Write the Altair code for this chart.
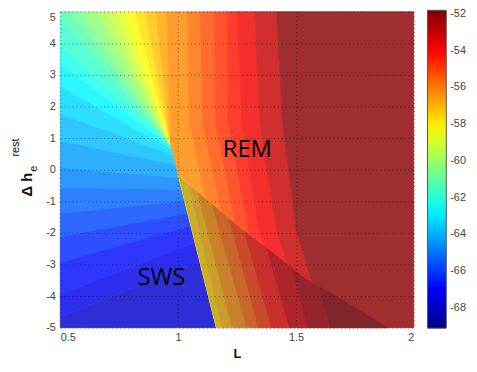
import math
import altair as alt
import pandas as pd

# ---------------- values ----------------
X_DOMAIN = [0.5, 2.0]
Y_DOMAIN = [-5.0, 5.0]
X_TICKS = [0.5, 1, 1.5, 2]
Y_TICKS = [-5, -4, -3, -2, -1, 0, 1, 2, 3, 4, 5]
CBAR_DOMAIN = [-69.1, -51.8]
CBAR_TICKS = [-52, -54, -56, -58, -60, -62, -64, -66, -68]

# SWS / REM domain boundary (top point, pivot, bottom point)
SWS_TOP = (1.0, 5.0)
SWS_PIVOT = (0.97, 0.75)
SWS_BOTTOM = (1.162, -5.0)

# SWS contour lines (bottom -> top): start on left edge (Y at L=0.5), end on boundary (Y)
FAN_LEFT_Y = [-4.66, -3.94, -2.93, -2.12, -1.37, -0.56, 0.07, 0.92, 1.79, 2.64, 3.36, 3.95, 4.83]
FAN_LEFT_END_Y = [-2.9, -2.3, -1.76, -1.36, -0.98, -0.62, -0.25, 0.15, 0.45, 0.65, 0.75, 0.75, 0.75]
# SWS contour lines starting on the top edge (L at dh=5), all ending at the pivot
FAN_TOP_X = [0.546, 0.592, 0.651, 0.693, 0.735, 0.777, 0.818, 0.860, 0.906, 0.952]
FAN_VALUES = [-67.75, -67.25, -66.75, -66.25, -65.75, -65.25, -64.75, -64.25,
              -63.75, -63.25, -62.75, -62.25, -61.75, -61.25, -60.75, -60.25,
              -59.75, -59.25, -58.75, -58.25, -57.75, -57.25, -56.75, -56.25]

# REM contour lines: L at dh = 5, 1.5, -1.9, -5
REM_LINE_Y = [5.0, 1.5, -1.9, -5.0]
REM_LINES_X = [
    [1.040, 1.049, 1.145, 1.250],
    [1.095, 1.103, 1.200, 1.313],
    [1.154, 1.158, 1.250, 1.367],
    [1.208, 1.212, 1.300, 1.426],
    [1.250, 1.271, 1.342, 1.480],
    [1.325, 1.346, 1.417, 1.552],
    [1.418, 1.443, 1.501, 1.627],
]
REM_VALUES = [-56.25, -55.75, -55.25, -54.75, -54.25, -53.75, -53.0, -52.0]

# bistable region (below the curve): SWS contour lines, L at dh = -1.9 and -5
EXT_LINE_Y = [-1.9, -5.0]
EXT_LINES_X = [
    [1.091, 1.187], [1.124, 1.229], [1.175, 1.292], [1.229, 1.342],
    [1.279, 1.397], [1.355, 1.472], [1.438, 1.552], [1.535, 1.648],
]
EXT_VALUES = [-57.75, -57.25, -56.5, -55.75, -55.0, -54.25, -53.25, -52.5, -51.9]

# boundary curve of the bistable region
CURVE_X = [1.001, 1.124, 1.263, 1.418, 1.543, 1.698, 1.891]
CURVE_Y = [-0.18, -0.96, -1.84, -2.72, -3.47, -4.12, -5.0]

LABEL_TEXT = ["REM", "SWS"]
LABEL_X = [1.294, 0.929]
LABEL_Y = [0.634, -3.435]

# ---------------- geometry helpers ----------------
V = [(0.5, -5.0), (0.5, 5.0), SWS_TOP, SWS_PIVOT, SWS_BOTTOM]
NV = len(V)


def perim_point(s):
    s = s % NV
    i = int(math.floor(s))
    f = s - i
    a, b = V[i], V[(i + 1) % NV]
    return (a[0] + f * (b[0] - a[0]), a[1] + f * (b[1] - a[1]))


def walk(s1, s2):
    if abs(s2 - s1) < 1e-12:
        return []
    if s2 < s1:
        s2 += NV
    return [V[j % NV] for j in range(int(math.floor(s1)) + 1, int(math.ceil(s2))) if s1 < j < s2]


def clip(poly, f):
    out = []
    n = len(poly)
    for i in range(n):
        a, b = poly[i], poly[(i + 1) % n]
        fa, fb = f(a), f(b)
        if fa >= 0:
            out.append(a)
        if (fa >= 0) != (fb >= 0):
            t = fa / (fa - fb)
            out.append((a[0] + t * (b[0] - a[0]), a[1] + t * (b[1] - a[1])))
    return out


def ext_fn(xs, sign):
    x1, x2 = xs
    y1, y2 = EXT_LINE_Y

    def f(p):
        return sign * (p[0] - (x1 + (x2 - x1) * (p[1] - y1) / (y2 - y1)))
    return f


polys = []  # (layer, value, vertices)

# SWS fan bands
starts = [(y + 5.0) / 10.0 for y in FAN_LEFT_Y] + \
         [1.0 + (x - 0.5) / (SWS_TOP[0] - 0.5) for x in FAN_TOP_X]
ends = [3.0 + (SWS_PIVOT[1] - y) / (SWS_PIVOT[1] - SWS_BOTTOM[1]) for y in FAN_LEFT_END_Y] + \
       [3.0] * len(FAN_TOP_X)
nl = len(starts)
for b in range(nl + 1):
    if b == 0:
        pts = [perim_point(ends[0])] + walk(ends[0], starts[0]) + [perim_point(starts[0])]
    elif b == nl:
        pts = [perim_point(starts[-1])] + walk(starts[-1], ends[-1]) + [perim_point(ends[-1])]
    else:
        pts = ([perim_point(starts[b - 1])] + walk(starts[b - 1], starts[b]) +
               [perim_point(starts[b]), perim_point(ends[b])] +
               walk(ends[b], ends[b - 1]) + [perim_point(ends[b - 1])])
    polys.append(("main", FAN_VALUES[b], pts))

# REM bands
rem_lines = [[SWS_TOP, SWS_PIVOT, SWS_BOTTOM]] + \
            [list(zip(xs, REM_LINE_Y)) for xs in REM_LINES_X] + \
            [[(X_DOMAIN[1], Y_DOMAIN[1]), (X_DOMAIN[1], Y_DOMAIN[0])]]
for j in range(len(rem_lines) - 1):
    pts = list(rem_lines[j]) + list(reversed(rem_lines[j + 1]))
    polys.append(("main", REM_VALUES[j], pts))

# bistable region bands
region = list(zip(CURVE_X, CURVE_Y)) + [SWS_BOTTOM]
for j in range(len(EXT_LINES_X) + 1):
    pts = region
    if j > 0:
        pts = clip(pts, ext_fn(EXT_LINES_X[j - 1], 1))
    if j < len(EXT_LINES_X):
        pts = clip(pts, ext_fn(EXT_LINES_X[j], -1))
    if len(pts) >= 3:
        polys.append(("ext", EXT_VALUES[j], pts))

rows = []
for pid, (layer, val, pts) in enumerate(polys):
    for k, (x, y) in enumerate(pts):
        rows.append({"pid": pid, "layer": layer, "v": val, "k": k, "x": x, "y": y})
df = pd.DataFrame(rows)
df_main = df[df.layer == "main"]
df_ext = df[df.layer == "ext"]
df_shade = pd.DataFrame([{"pid": 0, "k": k, "x": x, "y": y} for k, (x, y) in enumerate(region)])

# ---------------- styling ----------------
JET = ["#000080", "#0000ff", "#0080ff", "#00ffff", "#80ff80", "#ffff00", "#ff8000", "#ff0000", "#800000"]
ALPHA = 0.82


def lighten(h):
    c = [int(h[i:i + 2], 16) for i in (1, 3, 5)]
    c = [round(ALPHA * v + (1 - ALPHA) * 255) for v in c]
    return "#%02x%02x%02x" % tuple(c)


JET_LIGHT = [lighten(h) for h in JET]

FONT = "Liberation Sans"
sx = alt.Scale(domain=X_DOMAIN, nice=False, zero=False)
sy = alt.Scale(domain=Y_DOMAIN, nice=False, zero=False)
light = alt.Scale(domain=CBAR_DOMAIN, range=JET_LIGHT, interpolate="rgb")

x_axis = alt.Axis(values=X_TICKS, labelExpr="'' + datum.value", grid=True, gridDash=[1, 3],
                  gridColor="#000000", gridOpacity=0.5, ticks=False, domain=False,
                  labelPadding=4, labelFontSize=11, labelFont=FONT, labelColor="#444444",
                  titleFontSize=13, titleFontWeight="bold", titleFont=FONT, titlePadding=5,
                  titleColor="#111111", zindex=1)
y_axis = alt.Axis(values=Y_TICKS, labelExpr="'' + datum.value", grid=True, gridDash=[1, 3],
                  gridColor="#000000", gridOpacity=0.5, ticks=False, domain=False,
                  labelBaseline={"condition": {"test": "datum.value == 5", "value": "top"},
                                 "value": "middle"},
                  labelPadding=5, labelFontSize=11, labelFont=FONT, labelColor="#444444", zindex=1)

X = alt.X("x:Q", scale=sx, axis=x_axis, title="L")
Y = alt.Y("y:Q", scale=sy, axis=y_axis, title=None)

main = alt.Chart(df_main).mark_line(filled=True, interpolate="linear-closed", strokeWidth=0.8).encode(
    x=X, y=Y,
    color=alt.Color("v:Q", scale=light, legend=None),
    stroke=alt.Stroke("v:Q", scale=light, legend=None),
    detail="pid:N", order="k:Q")

ext = alt.Chart(df_ext).mark_line(filled=True, interpolate="linear-closed", strokeWidth=0.8).encode(
    x=X, y=Y,
    color=alt.Color("v:Q", scale=light, legend=None),
    stroke=alt.Stroke("v:Q", scale=light, legend=None),
    detail="pid:N", order="k:Q")

shade = alt.Chart(df_shade).mark_line(filled=True, interpolate="linear-closed", fill="#2a0a22",
                                      opacity=0.25, strokeWidth=0).encode(
    x=X, y=Y, detail="pid:N", order="k:Q")

labels = alt.Chart(pd.DataFrame({"t": LABEL_TEXT, "x": LABEL_X, "y": LABEL_Y})).mark_text(
    font="Open Sans", fontSize=24, color="#000000").encode(x=X, y=Y, text="t:N")

ytitle_main = alt.Chart(pd.DataFrame({"t": ["Δ h"]})).mark_text(
    angle=270, font=FONT, fontSize=15, fontWeight="bold", color="#111111").encode(
    x=alt.value(-34), y=alt.value(175), text="t:N")
ytitle_sup = alt.Chart(pd.DataFrame({"t": ["rest"]})).mark_text(
    angle=270, font=FONT, fontSize=11, color="#111111").encode(
    x=alt.value(-45), y=alt.value(137.5), text="t:N")
ytitle_sub = alt.Chart(pd.DataFrame({"t": ["e"]})).mark_text(
    angle=270, font=FONT, fontSize=11, color="#111111").encode(
    x=alt.value(-27), y=alt.value(159), text="t:N")

cbar = alt.Chart(pd.DataFrame({"cb": CBAR_DOMAIN, "x": [X_DOMAIN[0]] * 2, "y": [0.0, 0.0]})).mark_rect(
    opacity=1, width=0.01, height=0.01).encode(
    x=X, y=Y,
    color=alt.Color("cb:Q", scale=alt.Scale(domain=CBAR_DOMAIN, range=JET, interpolate="rgb"),
                    title=None,
                    legend=alt.Legend(orient="none", legendX=372, legendY=-1.5, direction="vertical",
                                      gradientLength=322, gradientThickness=19, values=CBAR_TICKS,
                                      labelExpr="'' + datum.value", labelFontSize=11, labelFont=FONT,
                                      labelColor="#444444", labelOffset=4, labelOverlap=False,
                                      gradientStrokeColor="#555555", gradientStrokeWidth=1)))

chart = alt.layer(main, ext, shade, labels, ytitle_main, ytitle_sup, ytitle_sub, cbar).resolve_scale(
    color="independent", stroke="independent"
).resolve_legend(color="independent").properties(
    width=358, height=320,
    autosize=alt.AutoSizeParams(type="none"),
    padding={"left": 53, "top": 1.5, "right": 56, "bottom": 34},
).configure_view(stroke=None)

chart.save("out.html", embed_options={"renderer": "svg", "actions": False})
